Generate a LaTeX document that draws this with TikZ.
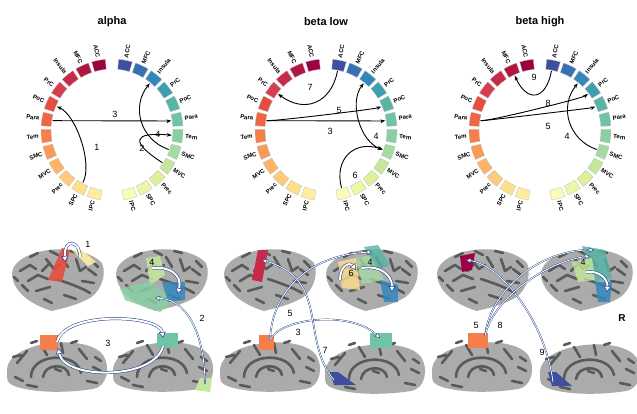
\documentclass[tikz,border=0pt]{standalone}
\usepackage{fontspec}
\setmainfont{Liberation Sans}
\usetikzlibrary{arrows.meta,calc,positioning}
\definecolor{L0}{HTML}{9E0142}\definecolor{L1}{HTML}{B0163F}\definecolor{L2}{HTML}{C72A47}
\definecolor{L3}{HTML}{D53E4F}\definecolor{L4}{HTML}{E64D3E}\definecolor{L5}{HTML}{F06544}
\definecolor{L6}{HTML}{F67E4B}\definecolor{L7}{HTML}{FA9A58}\definecolor{L8}{HTML}{FDB466}
\definecolor{L9}{HTML}{FDCB7A}\definecolor{L10}{HTML}{FEE08B}\definecolor{L11}{HTML}{FEEDA0}
\definecolor{R0}{HTML}{3E4FA0}\definecolor{R1}{HTML}{3571B3}\definecolor{R2}{HTML}{3288BD}
\definecolor{R3}{HTML}{3E9FB0}\definecolor{R4}{HTML}{58B4A4}\definecolor{R5}{HTML}{70C4A4}
\definecolor{R6}{HTML}{8ACFA4}\definecolor{R7}{HTML}{A4DAA4}\definecolor{R8}{HTML}{C4E79C}
\definecolor{R9}{HTML}{DCF19A}\definecolor{R10}{HTML}{EEF7A8}\definecolor{R11}{HTML}{FAFBB6}
\definecolor{navy}{HTML}{1F3C88}
\definecolor{cortex}{HTML}{ABABAB}
\definecolor{sulcus}{HTML}{5A5A5A}
\tikzset{
    seglab/.style={font=\fontsize{6}{6}\selectfont\bfseries, inner sep=0.5pt},
    title/.style={font=\fontsize{11}{11}\selectfont\bfseries},
    num/.style={font=\fontsize{9}{9}\selectfont},
    chord/.style={->,>={Stealth[length=5pt]},line width=0.9pt},
    chords/.style={<->,>={Stealth[length=5pt]},line width=0.9pt},
    barrow/.style={draw=navy,double=white,double distance=2pt,line width=0.5pt,
           -{Triangle[length=6pt,width=7pt,fill=white,line width=0.5pt]}},
    tarrow/.style={draw=navy,double=white,double distance=0.8pt,line width=0.4pt,
           -{Triangle[length=5pt,width=5pt,fill=white,line width=0.4pt]}},
    sulc/.style={draw=sulcus,line width=2.6pt,line cap=round,line join=round},
}
% wheel of 12+12 segments, coordinates #1L0.. #1R11
\newcommand{\wheel}[1]{%
  \foreach \n [count=\i from 0] in {ACC,MFC,Insula,PrC,PoC,Para,Tem,SMC,MVC,Prec,SPC,IPC}{
    \pgfmathsetmacro{\al}{101+14*\i}
    \pgfmathsetmacro{\ar}{79-14*\i}
    \filldraw[fill=L\i,draw=gray!50,line width=0.3pt] (\al-5.6:61) arc (\al-5.6:\al+5.6:61)
      -- (\al+5.6:71) arc (\al+5.6:\al-5.6:71) -- cycle;
    \filldraw[fill=R\i,draw=gray!50,line width=0.3pt] (\ar-5.6:61) arc (\ar-5.6:\ar+5.6:61)
      -- (\ar+5.6:71) arc (\ar+5.6:\ar-5.6:71) -- cycle;
    \node[seglab,anchor=east,rotate=\al-180] at (\al:73) {\n};
    \node[seglab,anchor=west,rotate=\ar] at (\ar:73) {\n};
    \coordinate (#1L\i) at (\al:60);
    \coordinate (#1R\i) at (\ar:60);
  }%
}
\newcommand{\chord}[4][chord]{%
  \draw[#1] (#2) .. controls ($(#2)!#4!(0,0)$) and ($(#3)!#4!(0,0)$) .. (#3);}
% brain views
\newcommand{\lat}[2]{%
  \begin{scope}[shift={(#1,#2)}]
    \fill[cortex] (-46,4) .. controls (-44,28) and (20,38) .. (44,14)
       .. controls (50,0) and (40,-18) .. (30,-22) .. controls (15,-30) and (0,-32) .. (-6,-34)
       .. controls (-20,-30) and (-46,-18) .. cycle;
    \draw[sulc] (-38,6) -- (-28,12) -- (-22,8) (-30,-4) -- (-20,2) -- (-10,-2) (-12,18) -- (-4,8) -- (2,12)
      (4,20) -- (10,10) (18,18) -- (22,6) -- (28,10) (30,8) -- (38,2) (-22,-14) -- (-8,-10)
      (-2,-2) .. controls (10,-6) and (22,-10) .. (32,-16) (6,-18) -- (18,-22) (-36,-8) -- (-30,-14)
      (-28,20) -- (-20,24) (-8,26) -- (0,22) (12,26) -- (20,24) (34,16) -- (40,10)
      (-40,-4) -- (-44,0) (-14,-22) -- (-6,-26) (24,-4) -- (36,-6) (-16,6) -- (-8,14);
  \end{scope}}
\newcommand{\med}[2]{%
  \begin{scope}[shift={(#1,#2)}]
    \fill[cortex] (-50,-6) .. controls (-48,22) and (30,30) .. (46,8)
       .. controls (54,-4) and (50,-24) .. (36,-26) .. controls (10,-30) and (-20,-30) .. (-40,-24)
       .. controls (-50,-20) .. cycle;
    \draw[sulc] (-26,-14) .. controls (-26,10) and (20,12) .. (24,-10)
      (-14,-14) .. controls (-12,0) and (10,0) .. (12,-12)
      (-40,0) -- (-30,12) (-16,18) -- (-10,8) (4,20) -- (6,10) (22,14) -- (30,4) (36,-4) -- (44,-8)
      (-42,-14) -- (-34,-18) (30,-18) -- (40,-20) (-36,8) -- (-44,6) (-2,-6) -- (4,-8)
      (14,20) -- (20,22) (-26,20) -- (-20,22) (38,6) -- (44,2) (-30,-22) -- (-20,-24);
  \end{scope}}
\begin{document}
\begin{tikzpicture}[x=1pt,y=1pt]
\useasboundingbox (0,0) rectangle (637,-413);
% chord diagrams
\node[title] at (112,-22) {alpha};
\node[title] at (326,-22) {beta low};
\node[title] at (540,-22) {beta high};
\begin{scope}[shift={(112,-130)}]
  \wheel{a}
  \chord{aL10}{aL4}{0.35}
  \chord{aL5}{aR5}{0.02}
  \chord{aR7}{aR2}{0.5}
  \chord{aR8}{aR6}{0.65}
  \node[num] at (-15,-17) {1};
  \node[num] at (3,16) {3};
  \node[num] at (46,-4) {4};
  \node[num] at (30,-18) {2};
\end{scope}
\begin{scope}[shift={(326,-130)}]
  \wheel{b}
  \chord{bR0}{bL3}{0.55}
  \chord{bL5}{bR4}{0.1}
  \chord{bL5}{bR5}{0.02}
  \chord[chords]{bR2}{bR7}{0.4}
  \chord{bR11}{bR7}{0.5}
  \node[num] at (-16,43) {7};
  \node[num] at (13,20) {5};
  \node[num] at (4,-1) {3};
  \node[num] at (50,-6) {4};
  \node[num] at (29,-45) {6};
\end{scope}
\begin{scope}[shift={(540,-130)}]
  \wheel{c}
  \chord{cR0}{cL1}{0.5}
  \chord{cL5}{cR3}{0.12}
  \chord{cL5}{cR4}{0.05}
  \chord{cR7}{cR2}{0.5}
  \node[num] at (-6,53) {9};
  \node[num] at (8,27) {8};
  \node[num] at (8,4) {5};
  \node[num] at (27,-6) {4};
\end{scope}
% brains
\lat{58}{-277}\lat{162}{-277}\lat{270}{-277}\lat{372}{-277}\lat{483}{-277}\lat{587}{-277}
\med{57}{-363}\med{163}{-363}\med{270}{-363}\med{375}{-365}\med{482}{-363}\med{590}{-365}
% patches alpha
\fill[L4,opacity=0.9] (62,-248) -- (70,-250) -- (62,-282) -- (48,-280) -- cycle;
\fill[L11,opacity=0.9] (72,-250) -- (82,-250) -- (96,-262) -- (88,-266) -- cycle;
\fill[R8,opacity=0.85] (146,-258) -- (160,-256) -- (165,-275) -- (150,-285) -- cycle;
\fill[R6,opacity=0.85] (120,-288) -- (150,-282) -- (175,-300) -- (160,-312) -- (125,-300) -- cycle;
\fill[R2,opacity=0.85] (162,-282) -- (185,-282) -- (185,-300) -- (168,-302) -- cycle;
\fill[L6] (40,-335) rectangle (58,-350);
\fill[R5] (157,-333) rectangle (178,-348);
\fill[R8] (200,-378) -- (212,-378) -- (210,-392) -- (195,-390) -- cycle;
% patches beta low
\fill[L2] (258,-250) -- (268,-250) -- (262,-282) -- (252,-280) -- cycle;
\fill[L10,opacity=0.8] (338,-262) -- (356,-258) -- (360,-290) -- (342,-288) -- cycle;
\fill[R7,opacity=0.8] (356,-258) -- (372,-255) -- (384,-280) -- (362,-284) -- cycle;
\fill[R4,opacity=0.8] (364,-247) -- (378,-245) -- (390,-265) -- (378,-270) -- cycle;
\fill[R2,opacity=0.85] (380,-280) -- (398,-285) -- (398,-302) -- (384,-302) -- cycle;
\fill[L6] (259,-335) rectangle (274,-350);
\fill[R5] (370,-333) rectangle (392,-348);
\fill[R0] (330,-372) -- (338,-372) -- (356,-385) -- (334,-385) -- cycle;
% patches beta high
\fill[L0] (460,-256) -- (475,-253) -- (472,-270) -- (462,-272) -- cycle;
\fill[R4,opacity=0.85] (582,-246) -- (605,-250) -- (612,-278) -- (595,-282) -- cycle;
\fill[R8,opacity=0.8] (572,-262) -- (592,-258) -- (595,-280) -- (578,-282) -- cycle;
\fill[R2,opacity=0.85] (595,-282) -- (612,-282) -- (610,-302) -- (598,-302) -- cycle;
\fill[L6] (468,-333) rectangle (488,-348);
\fill[R0] (548,-372) -- (556,-372) -- (572,-386) -- (552,-386) -- cycle;
% coordinates for arrows
\coordinate (aPoC) at (65,-262); \coordinate (aSPC) at (80,-257);
\coordinate (aSMC) at (152,-268); \coordinate (aIns) at (178,-294);
\coordinate (aTem) at (155,-298); \coordinate (aMVC) at (205,-384);
\coordinate (aParL) at (57,-342); \coordinate (aParR) at (163,-338);
\coordinate (aParR2) at (163,-346); \coordinate (aParL2) at (58,-348);
\coordinate (bPrC) at (262,-260); \coordinate (bParL) at (270,-340);
\coordinate (bPoC) at (372,-252); \coordinate (bParR) at (380,-338);
\coordinate (bACC) at (334,-380); \coordinate (bIns) at (362,-268);
\coordinate (bSMC) at (392,-292); \coordinate (bIPC) at (340,-280);
\coordinate (cMFC) at (466,-260); \coordinate (cParL) at (485,-336);
\coordinate (cPrC) at (594,-250); \coordinate (cPoC) at (590,-256);
\coordinate (cACC) at (553,-382); \coordinate (cSMC) at (586,-272);
\coordinate (cIns) at (607,-292);
% arrows alpha
\draw[barrow] (aSPC) .. controls (80,-240) and (64,-238) .. (aPoC);
\draw[barrow] (aSMC) .. controls (170,-266) and (182,-275) .. (aIns);
\draw[tarrow] (aMVC) .. controls (205,-340) and (190,-300) .. (aTem);
\draw[barrow] (aParL) .. controls (65,-310) and (160,-315) .. (aParR);
\draw[barrow] (aParR2) .. controls (155,-380) and (65,-380) .. (aParL2);
\node[num] at (88,-244) {1};
\node[num] at (152,-262) {4};
\node[num] at (202,-318) {2};
\node[num] at (108,-343) {3};
% arrows beta low
\draw[tarrow] (bParL) .. controls (272,-290) and (310,-255) .. (bPoC);
\draw[tarrow] (bParL) .. controls (280,-318) and (350,-310) .. (bParR);
\draw[tarrow] (bACC) .. controls (300,-340) and (330,-280) .. (bPrC);
\draw[barrow] (bIns) .. controls (380,-265) and (392,-275) .. (bSMC);
\draw[barrow] (bIPC) .. controls (340,-265) and (350,-262) .. (356,-270);
\node[num] at (290,-313) {5};
\node[num] at (298,-332) {3};
\node[num] at (325,-350) {7};
\node[num] at (370,-262) {4};
\node[num] at (351,-273) {6};
% arrows beta high
\draw[tarrow] (cACC) .. controls (545,-320) and (500,-265) .. (cMFC);
\draw[tarrow] (cParL) .. controls (490,-290) and (540,-250) .. (cPrC);
\draw[tarrow] (cParL) .. controls (492,-300) and (545,-262) .. (cPoC);
\draw[barrow] (cSMC) .. controls (600,-270) and (608,-280) .. (cIns);
\node[num] at (476,-325) {5};
\node[num] at (500,-325) {8};
\node[num] at (542,-352) {9};
\node[num] at (583,-262) {4};
\node[font=\fontsize{10}{10}\selectfont\bfseries] at (622,-318) {R};
\end{tikzpicture}
\end{document}
